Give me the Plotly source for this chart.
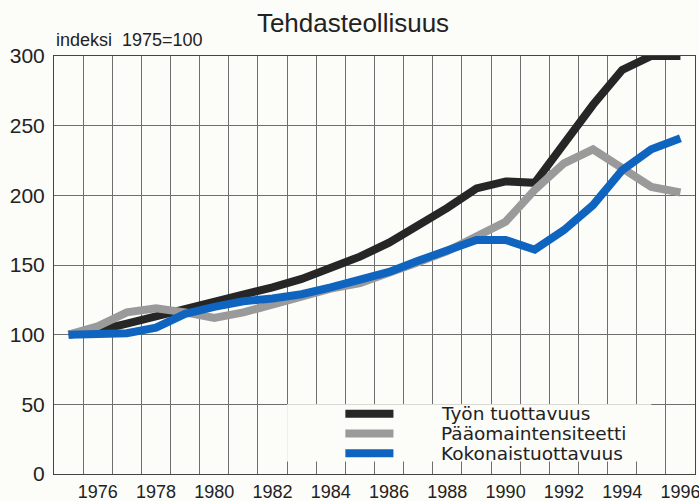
import plotly.graph_objects as go

# Data (index 1975=100)
years = list(range(1975, 1997))
tyon_tuottavuus = [100, 103, 108, 113, 119, 123, 129, 134, 140, 148, 156, 166,
                   178, 191, 205, 210, 209, 238, 265, 290, 300, 300]
paaomaintensiteetti = [100, 106, 116, 119, 116, 112, 116, 122, 128, 133, 137, 144,
                       152, 160, 171, 181, 204, 223, 233, 220, 206, 202]
kokonaistuottavuus = [100, 100, 101, 105, 115, 120, 124, 126, 129, 134, 139, 145,
                      153, 161, 168, 168, 161, 175, 193, 218, 233, 241]

series_names = ["Työn tuottavuus", "Pääomaintensiteetti", "Kokonaistuottavuus"]
series_colors = ["#262626", "#9a9a9a", "#0f64c0"]
x_tick_years = list(range(1976, 1997, 2))
y_ticks = [0, 50, 100, 150, 200, 250, 300]

FONT = "Liberation Sans, Arial, sans-serif"
WIDE_FONT = "DejaVu Sans, sans-serif"

fig = go.Figure()
for name, values, color in zip(series_names,
                               [tyon_tuottavuus, paaomaintensiteetti, kokonaistuottavuus],
                               series_colors):
    fig.add_trace(go.Scatter(x=years, y=values, name=name, mode="lines",
                             line=dict(color=color, width=8), showlegend=False))

# Hand-drawn legend box like in the printed original
shapes = [dict(type="rect", xref="x", yref="y", x0=1982.5, x1=1995.0, y0=9, y1=50,
               fillcolor="#fcfcf9", line=dict(width=0), layer="above")]
annotations = []
legend_y = [43.3, 29.1, 14.9]
for name, color, ly in zip(series_names, series_colors, legend_y):
    shapes.append(dict(type="line", xref="x", yref="y", x0=1984.5, x1=1986.15,
                       y0=ly, y1=ly, line=dict(color=color, width=8), layer="above"))
    annotations.append(dict(x=1987.75, y=ly, xref="x", yref="y", text=name,
                            showarrow=False, xanchor="left", yanchor="middle",
                            borderpad=0,
                            font=dict(size=18.5, color="#222", family=WIDE_FONT)))

annotations.append(dict(x=0, y=1.01, xref="paper", yref="paper", text="indeksi  1975=100",
                        showarrow=False, xanchor="left", yanchor="bottom",
                        font=dict(size=18, color="#222", family=FONT)))

fig.update_layout(
    width=699, height=501,
    margin=dict(l=54, r=4, t=56, b=27),
    paper_bgcolor="#fcfcf9",
    plot_bgcolor="#fcfcf9",
    title=dict(text="Tehdasteollisuus", x=0.505, xanchor="center", y=0.955, yanchor="middle",
               font=dict(size=26, color="#222", family=FONT)),
    shapes=shapes,
    annotations=annotations,
    showlegend=False,
)
fig.update_xaxes(
    range=[1974.5, 1996.5], automargin=False,
    tickmode="array", tickvals=x_tick_years, ticks="", ticklabelstandoff=1,
    ticklabeloverflow="allow",
    showgrid=False, zeroline=False,
    minor=dict(tickmode="linear", tick0=1974.5, dtick=1, showgrid=True,
               gridcolor="#6e6e6e", gridwidth=1, ticks=""),
    showline=True, linecolor="#444", linewidth=1, mirror=True,
    tickfont=dict(size=18, color="#222", family=FONT),
)
fig.update_yaxes(
    range=[0, 300], automargin=False,
    tickmode="array", tickvals=y_ticks, ticks="", ticklabelstandoff=4,
    showgrid=True, gridcolor="#6e6e6e", gridwidth=1, zeroline=False,
    showline=True, linecolor="#444", linewidth=1, mirror=True,
    tickfont=dict(size=21, color="#222", family=FONT),
)

# drop the default page margin so the figure sits at the window corner
fig.write_html("out.html", config={"displayModeBar": False},
               post_script="document.body.style.margin='0';")
